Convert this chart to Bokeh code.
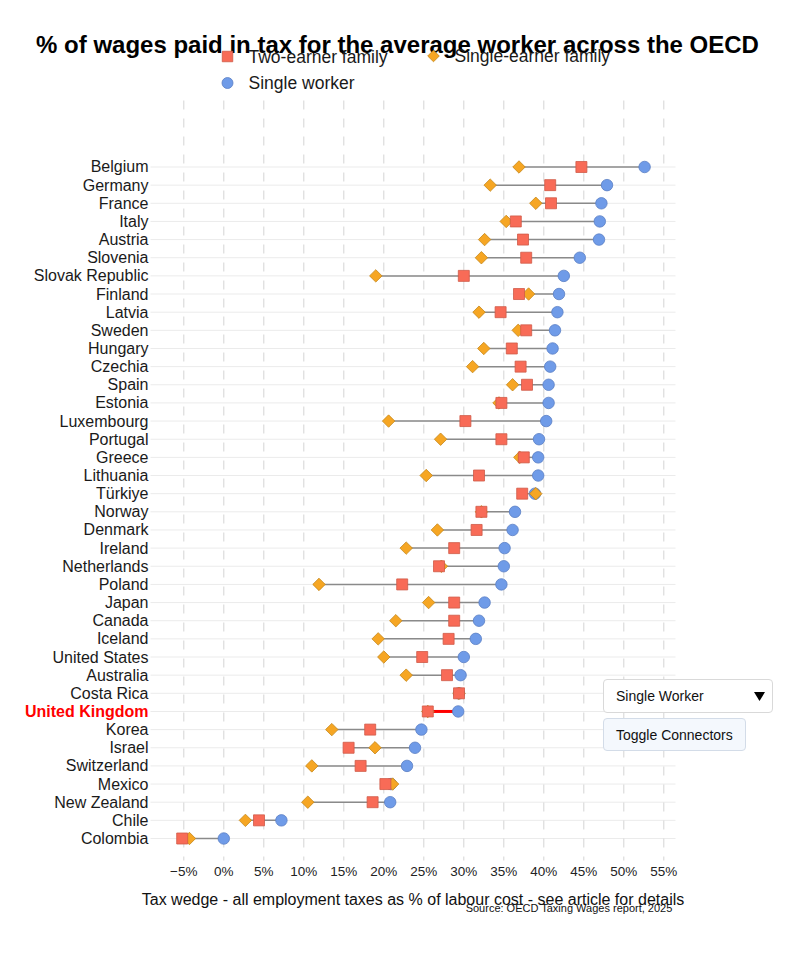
import numpy as np
from bokeh.plotting import figure
from bokeh.models import (ColumnDataSource, Select, Button, CustomJS, Range1d, InlineStyleSheet)
from bokeh.layouts import column
from bokeh.core.properties import value
from bokeh.embed import file_html
from bokeh.resources import INLINE

countries = ["Belgium", "Germany", "France", "Italy", "Austria", "Slovenia", "Slovak Republic",
             "Finland", "Latvia", "Sweden", "Hungary", "Czechia", "Spain", "Estonia", "Luxembourg",
             "Portugal", "Greece", "Lithuania", "Türkiye", "Norway", "Denmark", "Ireland",
             "Netherlands", "Poland", "Japan", "Canada", "Iceland", "United States", "Australia",
             "Costa Rica", "United Kingdom", "Korea", "Israel", "Switzerland", "Mexico",
             "New Zealand", "Chile", "Colombia"]
single_worker = [52.6, 47.9, 47.2, 47.0, 46.9, 44.5, 42.5, 41.9, 41.7, 41.4, 41.1, 40.8, 40.6, 40.6,
                 40.3, 39.4, 39.3, 39.3, 38.9, 36.4, 36.1, 35.1, 35.0, 34.7, 32.6, 31.9, 31.5, 30.0,
                 29.6, 29.4, 29.3, 24.7, 23.9, 22.9, 20.9, 20.8, 7.2, 0.0]
two_earner = [44.7, 40.8, 40.9, 36.5, 37.4, 37.8, 30.0, 36.9, 34.6, 37.8, 36.0, 37.1, 37.9, 34.7,
              30.2, 34.7, 37.5, 31.9, 37.3, 32.2, 31.6, 28.8, 26.9, 22.3, 28.8, 28.8, 28.1, 24.8,
              27.9, 29.4, 25.5, 18.3, 15.6, 17.1, 20.2, 18.6, 4.4, -5.2]
single_earner = [36.9, 33.3, 39.0, 35.3, 32.6, 32.2, 19.0, 38.1, 31.9, 36.8, 32.5, 31.1, 36.1, 34.4,
                 20.6, 27.1, 37.0, 25.3, 39.0, 32.2, 26.7, 22.8, 27.2, 11.9, 25.6, 21.5, 19.3, 20.0,
                 22.8, 29.4, 25.5, 13.5, 18.9, 11.0, 21.1, 10.5, 2.7, -4.3]
x_ticks = [-5, 0, 5, 10, 15, 20, 25, 30, 35, 40, 45, 50, 55]
x_tick_labels = ["\u22125%", "0%", "5%", "10%", "15%", "20%", "25%", "30%", "35%", "40%", "45%",
                 "50%", "55%"]
series_names = ["Two-earner family", "Single-earner family", "Single worker"]
sort_options = ["Single Worker", "Two-earner Family", "Single-earner Family"]
highlight = "United Kingdom"
title_text = "% of wages paid in tax for the average worker across the OECD"
x_label = "Tax wedge - all employment taxes as % of labour cost - see article for details"
source_note = "Source: OECD Taxing Wages report, 2025"

FONT = "Liberation Sans"
W, H = 790, 950

COL_TWO, EDGE_TWO = "#F86B57", "#CF5A48"
COL_SE, EDGE_SE = "#F6A623", "#C4861A"
COL_SW, EDGE_SW = "#6F9BE8", "#5A7FC4"


# pixel -> data helpers (layout only): 0% at x=223.3 px, 8 px per percentage point;
# last row at y=838 px, 18.149 px per row
def px(x_pix):
    return (x_pix - 223.3) / 8.0


def py(y_pix):
    return (838.0 - y_pix) / 18.149


PLOT_L, PLOT_R = px(150), px(675)
PLOT_T, PLOT_B = py(100), py(860)

n = len(countries)
ypos = [n - 1 - i for i in range(n)]
lo = [min(a, b, c) for a, b, c in zip(single_worker, two_earner, single_earner)]
hi = [max(a, b, c) for a, b, c in zip(single_worker, two_earner, single_earner)]
is_hl = [c == highlight for c in countries]

src = ColumnDataSource(dict(
    country=countries, y=ypos, single=single_worker, two=two_earner, singleE=single_earner,
    lo=lo, hi=hi,
    seg_color=["#FF0000" if h else "#8A8A8A" for h in is_hl],
    seg_width=[3 if h else 1.5 for h in is_hl],
    lab_color=["#FF0000" if h else "#1A1A1A" for h in is_hl],
    lab_style=["bold" if h else "normal" for h in is_hl],
))

p = figure(width=W, height=H, x_range=Range1d(px(0), px(W)), y_range=Range1d(py(H), py(0)),
           output_backend="svg", toolbar_location=None,
           min_border=0, min_border_left=0, min_border_right=0, min_border_top=0,
           min_border_bottom=0, outline_line_color=None,
           background_fill_color="white", border_fill_color="white")
p.xaxis.visible = False
p.yaxis.visible = False
p.grid.visible = False

# horizontal row grid lines
rows = list(range(n))
p.segment(x0=[PLOT_L] * n, x1=[PLOT_R] * n, y0=rows, y1=rows, line_color="#EBEBEB", line_width=1)
# vertical dashed grid lines at the x ticks
p.segment(x0=x_ticks, x1=x_ticks, y0=[PLOT_T] * len(x_ticks), y1=[PLOT_B] * len(x_ticks),
          line_color="#D4D4D4", line_width=1, line_dash="9 9")

seg = p.segment(x0="lo", y0="y", x1="hi", y1="y", line_color="seg_color",
                line_width="seg_width", source=src)
p.scatter(x="single", y="y", marker="circle", size=11.5, fill_color=COL_SW,
          line_color=EDGE_SW, line_width=0.8, source=src)
p.scatter(x="singleE", y="y", marker="square", angle=np.pi / 4, size=8.8,
          fill_color=COL_SE, line_color=EDGE_SE, line_width=0.8, source=src)
p.scatter(x="two", y="y", marker="square", size=11, fill_color=COL_TWO,
          line_color=EDGE_TWO, line_width=0.8, source=src)

# country names
p.text(x=PLOT_L, y="y", text="country", x_offset=-2, text_align="right",
       text_baseline="middle", text_font=value(FONT), text_font_size="16px",
       text_color="lab_color", text_font_style="lab_style", source=src)
# x tick labels
p.text(x=x_ticks, y=[py(871)] * len(x_ticks), text=x_tick_labels, text_align="center",
       text_baseline="middle", text_font=value(FONT), text_font_size="13.5px",
       text_color="#222222")
# axis title, chart title, source
p.text(x=[(PLOT_L + PLOT_R) / 2], y=[py(899)], text=[x_label], text_align="center",
       text_baseline="middle", text_font=value(FONT), text_font_size="16px",
       text_color="#111111")
p.text(x=[px(397)], y=[py(44)], text=[title_text], text_align="center",
       text_baseline="middle", text_font=value(FONT), text_font_size="24px",
       text_font_style="bold", text_color="#000000")
p.text(x=[px(672)], y=[py(907)], text=[source_note], text_align="right",
       text_baseline="middle", text_font=value(FONT), text_font_size="11px",
       text_color="#111111")

# legend (markers + labels), laid out in two columns like the original
leg_x = [px(227), px(433), px(227)]
leg_y = [py(56), py(55.5), py(82.5)]
p.scatter(x=leg_x[0:1], y=leg_y[0:1], marker="square", size=10.5, fill_color=COL_TWO,
          line_color=EDGE_TWO, line_width=0.8)
p.scatter(x=leg_x[1:2], y=leg_y[1:2], marker="square", angle=np.pi / 4, size=8.2,
          fill_color=COL_SE, line_color=EDGE_SE, line_width=0.8)
p.scatter(x=leg_x[2:3], y=leg_y[2:3], marker="circle", size=11, fill_color=COL_SW,
          line_color=EDGE_SW, line_width=0.8)
p.text(x=leg_x, y=leg_y, text=series_names, x_offset=21, text_align="left",
       text_baseline="middle", text_font=value(FONT), text_font_size="17.5px",
       text_color="#1A1A1A")

sel_css = InlineStyleSheet(css="""
.bk-input { height: 34px; font-size: 14px; padding: 0 12px; border: 1px solid #D9D9D9;
  border-radius: 4px; background-color: #FFFFFF; color: #111;
  font-family: 'Liberation Sans', Arial, sans-serif; }
select.bk-input, select:not([multiple]).bk-input, select:not([size]).bk-input {
  height: 34px !important; background-size: 11px 11px !important;
  background-position: right 7px center !important; }
""")
btn_css = InlineStyleSheet(css="""
.bk-btn { height: 33px; font-size: 14px; padding: 0 12px; border: 1px solid #D3DCE8;
  border-radius: 4px; background-color: #F4F8FD; color: #111; text-align: left;
  font-family: 'Liberation Sans', Arial, sans-serif; }
""")
select = Select(options=sort_options, value=sort_options[0], width=170, height=34, margin=0,
                stylesheets=[sel_css],
                styles={"position": "absolute", "left": "603px", "top": "679px"})
button = Button(label="Toggle Connectors", width=143, height=33, margin=0,
                stylesheets=[btn_css],
                styles={"position": "absolute", "left": "603px", "top": "718px"})

button.js_on_click(CustomJS(args=dict(seg=seg), code="seg.visible = !seg.visible;"))
select.js_on_change("value", CustomJS(args=dict(src=src, sel=select), code="""
const d = src.data;
const keys = {"Single Worker": "single", "Two-earner Family": "two", "Single-earner Family": "singleE"};
const key = keys[sel.value];
const n = d.country.length;
const idx = Array.from({length: n}, (_, i) => i).sort((a, b) => d[key][b] - d[key][a]);
const y = new Array(n);
idx.forEach((k, r) => { y[k] = n - 1 - r; });
src.data = Object.assign({}, d, {y: y});
"""))

layout = column(p, select, button)
open("out.html", "w").write(file_html(layout, INLINE))
